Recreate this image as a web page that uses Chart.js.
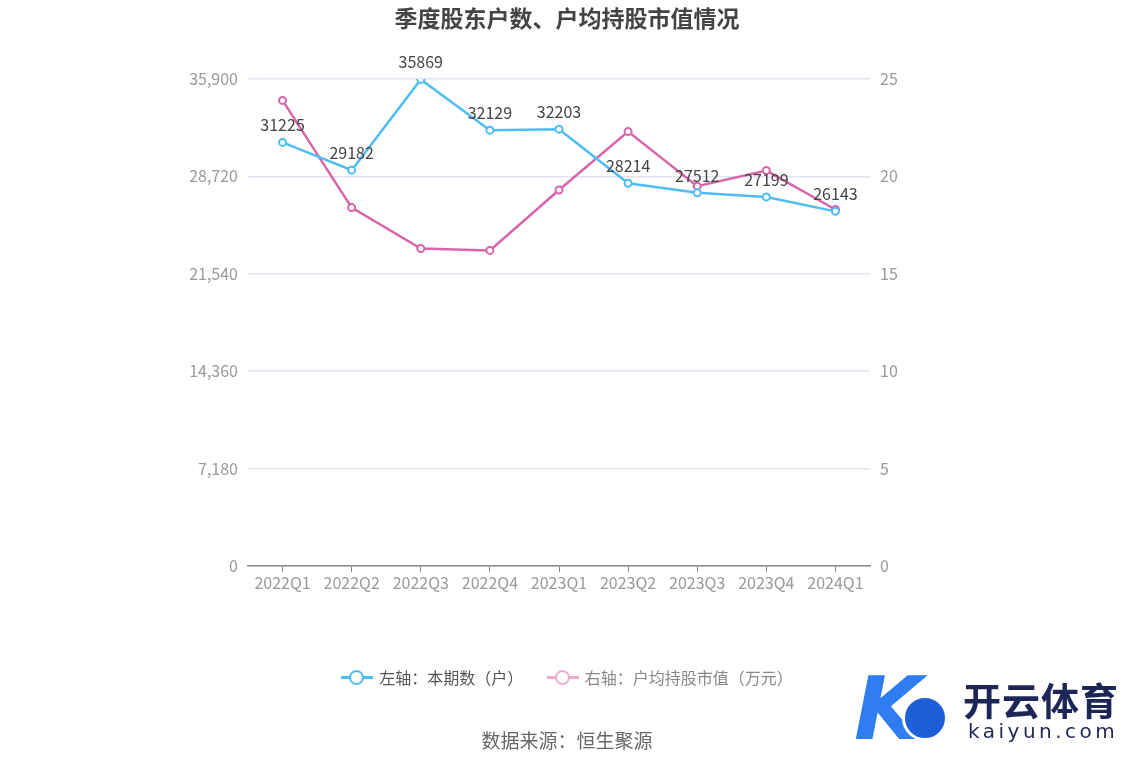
<!DOCTYPE html>
<html>
<head>
<meta charset="utf-8">
<script src="https://cdn.jsdelivr.net/npm/chart.js@4.4.1/dist/chart.umd.min.js"></script>
<style>
  html, body { margin: 0; padding: 0; background: #fff; }
  body { font-family: "Noto Sans CJK SC", "Noto Sans", sans-serif; }
  .wrap { position: relative; width: 1134px; height: 766px; }
  canvas { position: absolute; left: 0; top: 0; }
  .title { position: absolute; left: 0; width: 1134px; top: 0px; text-align: center;
           font-size: 23px; font-weight: bold; color: #444; }
  .legend { position: absolute; top: 662px; left: 0; width: 1134px; text-align: center;
            font-size: 16px; color: #555; }
  .legend .item { display: inline-block; margin: 0 10px; vertical-align: middle; }
  .legend .icon { display: inline-block; position: relative; width: 32px; height: 14px;
                  vertical-align: middle; margin-right: 6px; top: -2px; }
  .legend .icon i { position: absolute; left: 0; top: 6px; width: 32px; height: 3px; }
  .legend .icon b { position: absolute; left: 8px; top: 0; width: 11px; height: 11px;
                    border-radius: 50%; background: #fff; border: 2px solid; }
  .footer { position: absolute; top: 726px; left: 0; width: 1134px; text-align: center;
            font-size: 19px; color: #666; }
  .logo { position: absolute; left: 850px; top: 665px; width: 280px; height: 90px; }
  .logo .k { position: absolute; left: 4px; top: -8px; font-size: 88px; font-weight: bold; font-style: italic;
             color: #2f7df0; font-family: "DejaVu Sans", sans-serif; }
  .logo .ball { position: absolute; left: 52px; top: 30px; width: 40px; height: 40px; border-radius: 50%;
                background: #1e5fd8; border: 3px solid #fff; }
  .logo .cn { position: absolute; left: 113px; top: 6px; font-size: 38px; font-weight: bold; color: #1c2757;
              letter-spacing: 1px; }
  .logo .en { position: absolute; left: 118px; top: 54px; font-size: 20px; color: #1c2757; letter-spacing: 3.5px;
              font-family: "DejaVu Sans", sans-serif; }
</style>
</head>
<body>
<div class="wrap">
  <canvas id="chart" width="1134" height="766"></canvas>
  <div class="title">季度股东户数、户均持股市值情况</div>
  <div class="legend">
    <span class="item"><span class="icon"><i style="background:#4fbdf3"></i><b style="border-color:#4fbdf3"></b></span>左轴：本期数（户）</span>
    <span class="item" style="color:#888"><span class="icon"><i style="background:#f0a9d2"></i><b style="border-color:#f0a9d2"></b></span>右轴：户均持股市值（万元）</span>
  </div>
  <div class="footer">数据来源：恒生聚源</div>
  <div class="logo">
    <span class="k">K</span><span class="ball"></span>
    <span class="cn">开云体育</span>
    <span class="en">kaiyun.com</span>
  </div>
</div>
<script>
// 季度
const quarters = ['2022Q1', '2022Q2', '2022Q3', '2022Q4', '2023Q1', '2023Q2', '2023Q3', '2023Q4', '2024Q1'];
// 左轴：本期数（户）
const holders = [31225, 29182, 35869, 32129, 32203, 28214, 27512, 27199, 26143];
// 右轴：户均持股市值（万元）
const avgValue = [23.9, 18.4, 16.3, 16.2, 19.3, 22.3, 19.5, 20.3, 18.3];
// 刻度
const leftTicks = [0, 7180, 14360, 21540, 28720, 35900];
const rightTicks = [0, 5, 10, 15, 20, 25];

const blue = '#4fbdf3';
const pink = '#d865ac';

// 蓝线数值标签
const valueLabels = {
    id: 'valueLabels',
    afterDatasetsDraw(chart) {
        const ctx = chart.ctx;
        const meta = chart.getDatasetMeta(0);
        ctx.save();
        ctx.font = '16px "Noto Sans CJK SC", sans-serif';
        ctx.fillStyle = '#444';
        ctx.textAlign = 'center';
        ctx.textBaseline = 'bottom';
        meta.data.forEach((pt, i) => {
            ctx.fillText(String(holders[i]), pt.x, pt.y - 9);
        });
        ctx.restore();
    }
};

const tickFont = { family: '"Noto Sans CJK SC", sans-serif', size: 16 };

new Chart(document.getElementById('chart').getContext('2d'), {
    type: 'line',
    data: {
        labels: quarters,
        datasets: [
            {
                label: '左轴：本期数（户）',
                data: holders,
                yAxisID: 'yL',
                borderColor: blue,
                backgroundColor: '#fff',
                pointBorderColor: blue,
                pointBackgroundColor: '#fff',
                borderWidth: 2.5,
                pointRadius: 3.5,
                pointBorderWidth: 2,
                tension: 0
            },
            {
                label: '右轴：户均持股市值（万元）',
                data: avgValue,
                yAxisID: 'yR',
                borderColor: pink,
                backgroundColor: '#fff',
                pointBorderColor: pink,
                pointBackgroundColor: '#fff',
                borderWidth: 2.5,
                pointRadius: 3.5,
                pointBorderWidth: 2,
                tension: 0
            }
        ]
    },
    options: {
        responsive: false,
        animation: false,
        layout: { padding: { top: 79, bottom: 160, left: 0, right: 0 } },
        plugins: {
            legend: { display: false },
            title: { display: false },
            tooltip: { enabled: false }
        },
        scales: {
            x: {
                offset: true,
                grid: { drawOnChartArea: false, drawTicks: true, tickLength: 6, color: '#888', lineWidth: 1 },
                border: { display: true, color: '#888', width: 1.5 },
                ticks: { color: '#999', font: tickFont, padding: 1, maxRotation: 0 },
                afterFit: s => { s.height = 40; }
            },
            yL: {
                position: 'left',
                min: 0,
                max: 35900,
                afterBuildTicks: s => { s.ticks = leftTicks.map(v => ({ value: v })); },
                grid: { color: '#e1e3f1', lineWidth: 1.5, drawTicks: false },
                border: { display: false },
                ticks: {
                    color: '#999', font: tickFont, padding: 10,
                    callback: v => v.toLocaleString('en-US')
                },
                afterFit: s => { s.width = 248; }
            },
            yR: {
                position: 'right',
                min: 0,
                max: 25,
                afterBuildTicks: s => { s.ticks = rightTicks.map(v => ({ value: v })); },
                grid: { drawOnChartArea: false, drawTicks: false },
                border: { display: false },
                ticks: { color: '#999', font: tickFont, padding: 10 },
                afterFit: s => { s.width = 264; }
            }
        }
    },
    plugins: [valueLabels]
});
</script>
</body>
</html>
